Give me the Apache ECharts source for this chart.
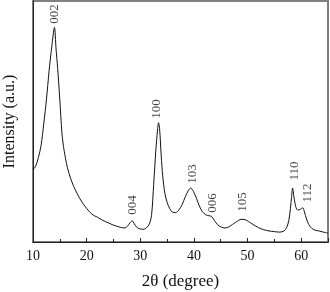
<!DOCTYPE html>
<html lang="en">
  <head>
    <meta charset="UTF-8" />
    <title>XRD</title>
    <script src="https://cdn.jsdelivr.net/npm/echarts@6/dist/echarts.min.js"></script>
    <style>
      html, body { margin: 0; padding: 0; background: #fff; }
    </style>
  </head>
  <body>
    <div id="main" style="width: 330px;height:292px;"></div>
    <script type="text/javascript">
      // 2theta positions and intensities
      var twoTheta = [
        10.0, 10.5, 11.0, 11.5, 12.0, 12.5, 13.0, 13.5, 14.0, 14.3, 14.6, 15.0, 15.4, 15.8,
        16.4, 17.0, 17.5, 17.9, 18.5, 19.0, 19.8, 21.0, 22.0, 23.0, 24.0, 25.0, 26.0, 27.0,
        27.6, 28.1, 28.5, 28.9, 29.4, 30.0, 30.6, 31.2, 31.7, 32.1, 32.5, 32.9, 33.2, 33.4,
        33.6, 33.9, 34.2, 34.6, 35.0, 35.5, 36.0, 36.6, 37.2, 37.8, 38.4, 39.0, 39.4, 39.9,
        40.5, 41.0, 41.6, 42.2, 42.8, 43.3, 43.8, 44.4, 45.0, 45.8, 46.5, 47.2, 48.0, 48.8,
        49.5, 50.2, 51.0, 52.0, 53.0, 54.0, 55.0, 56.0, 56.8, 57.3, 57.7, 58.0, 58.2, 58.4,
        58.6, 58.9, 59.3, 59.8, 60.3, 60.6, 61.0, 61.4, 62.0, 62.6, 63.5, 64.3, 65.0
      ];
      var intensity = [
        30, 31.5, 35, 40, 49, 59, 71, 81, 89, 80, 72, 59, 45, 38,
        31, 26.5, 23.5, 21.6, 19, 17, 14.5, 11.5, 10.3, 9, 8, 7, 6.3, 5.8,
        6.5, 8, 8.8, 7.5, 6, 5.4, 5.3, 6, 7.5, 11, 24, 38, 46, 49.5,
        47, 36, 27, 20, 16.5, 13.8, 12.4, 12.2, 13.3, 15.5, 18.8, 21.5, 22.4, 21,
        18, 15, 12.5, 11.3, 10.9, 10.6, 9, 7.2, 6.3, 5.8, 6.3, 7.3, 8.5, 9.4,
        9.3, 8.5, 7.3, 6, 5.1, 4.6, 4.3, 4.1, 4.6, 6, 9, 14, 18.5, 22.4,
        19.5, 15.5, 13.3, 13.5, 14.2, 12.5, 9.5, 7.3, 5.6, 4.9, 4.5, 4, 3.7
      ];
      // reflection labels (hkl) and where their text sits
      var peakNames = ["002", "004", "100", "103", "006", "105", "110", "112"];
      var peakX = [14.05, 28.5, 33.1, 39.8, 43.5, 49.1, 58.7, 61.1];
      var peakLabelY = [94.6, 15.4, 55.2, 28.2, 16.2, 16.6, 29.5, 20.3];

      var lineData = twoTheta.map(function (t, i) { return [t, intensity[i]]; });
      var labelData = peakNames.map(function (n, i) {
        return { name: n, value: [peakX[i], peakLabelY[i]] };
      });

      var serif = "Liberation Serif";
      var myChart = echarts.init(document.getElementById("main"));
      var option = {
        animation: false,
        grid: {
          left: 33, right: 2, top: 1, bottom: 50,
          outerBoundsMode: "none",
          containLabel: false,
          show: true, borderColor: "#808080", borderWidth: 2
        },
        xAxis: {
          type: "value",
          min: 10, max: 65, interval: 10,
          name: "2θ (degree)",
          nameLocation: "middle",
          nameGap: 31,
          nameTextStyle: { fontFamily: serif, fontSize: 17, color: "#111" },
          axisLine: { lineStyle: { color: "#222", width: 1 } },
          axisTick: { inside: true, length: 4, lineStyle: { color: "#222" } },
          minorTick: { show: true, splitNumber: 2, length: 3, lineStyle: { color: "#222" } },
          axisLabel: { fontFamily: serif, fontSize: 14, color: "#111", margin: 7, showMaxLabel: false },
          splitLine: { show: false }
        },
        yAxis: {
          type: "value",
          min: 0, max: 100,
          name: "Intensity (a.u.)",
          nameLocation: "middle",
          nameGap: 15,
          nameTextStyle: { fontFamily: serif, fontSize: 16, color: "#111" },
          axisLine: { show: true, lineStyle: { color: "#222", width: 1 } },
          axisTick: { show: false },
          axisLabel: { show: false },
          splitLine: { show: false }
        },
        series: [
          {
            type: "line",
            data: lineData,
            symbol: "none",
            smooth: 0.3,
            lineStyle: { color: "#111", width: 1 }
          },
          {
            type: "scatter",
            data: labelData,
            symbolSize: 0,
            silent: true,
            label: {
              show: true,
              position: "inside",
              rotate: 90,
              formatter: "{b}",
              fontFamily: serif,
              fontSize: 13,
              color: "#111"
            }
          }
        ]
      };
      myChart.setOption(option);
    </script>
  </body>
</html>
